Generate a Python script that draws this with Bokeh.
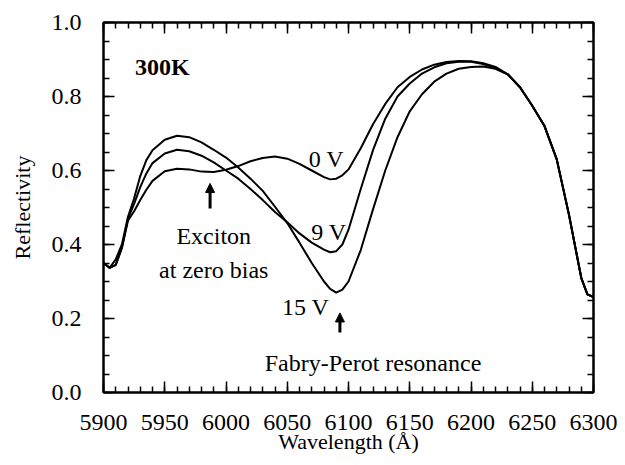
from bokeh.plotting import figure
from bokeh.models import LinearAxis, Range1d, Arrow, NormalHead, FixedTicker, ColumnDataSource
from bokeh.core.properties import value
from bokeh.embed import file_html
from bokeh.resources import INLINE

# ---- data ----
wavelength = [5900, 5905, 5910, 5915, 5920, 5925, 5930, 5935, 5940, 5950, 5960, 5970, 5980, 5990,
              6000, 6010, 6020, 6030, 6040, 6050, 6060, 6070, 6080, 6085, 6090, 6095, 6100, 6110,
              6120, 6130, 6140, 6150, 6160, 6170, 6180, 6190, 6200, 6210, 6220, 6230, 6240,
              6250, 6260, 6270, 6280, 6290, 6295, 6300]

refl_0V = [0.350, 0.337, 0.345, 0.390, 0.465, 0.490, 0.520, 0.548, 0.572, 0.598, 0.605, 0.603, 0.597, 0.596,
           0.602, 0.612, 0.625, 0.634, 0.638, 0.632, 0.618, 0.600, 0.582, 0.576, 0.578, 0.587, 0.603, 0.660,
           0.725, 0.780, 0.825, 0.853, 0.873, 0.886, 0.893, 0.896, 0.895, 0.890, 0.880, 0.860, 0.825,
           0.775, 0.720, 0.630, 0.480, 0.310, 0.265, 0.258]

refl_9V = [0.350, 0.337, 0.345, 0.392, 0.470, 0.510, 0.555, 0.592, 0.620, 0.646, 0.656, 0.652, 0.640, 0.622,
           0.600, 0.578, 0.550, 0.520, 0.488, 0.460, 0.430, 0.405, 0.386, 0.379, 0.382, 0.400, 0.440, 0.550,
           0.655, 0.740, 0.800, 0.835, 0.862, 0.879, 0.890, 0.894, 0.894, 0.888, 0.877, 0.860, 0.825,
           0.775, 0.720, 0.630, 0.480, 0.310, 0.265, 0.258]

refl_15V = [0.350, 0.337, 0.360, 0.400, 0.475, 0.525, 0.585, 0.628, 0.655, 0.683, 0.694, 0.690, 0.676, 0.656,
            0.635, 0.608, 0.578, 0.545, 0.502, 0.458, 0.405, 0.350, 0.300, 0.280, 0.270, 0.278, 0.300, 0.385,
            0.495, 0.600, 0.690, 0.760, 0.806, 0.840, 0.862, 0.875, 0.880, 0.881, 0.875, 0.860, 0.825,
            0.775, 0.720, 0.630, 0.480, 0.310, 0.265, 0.258]

x_ticks = [5900, 5950, 6000, 6050, 6100, 6150, 6200, 6250, 6300]
y_ticks = [0.0, 0.2, 0.4, 0.6, 0.8, 1.0]
x_minor = list(range(5900, 6301, 10))
y_minor = [round(i * 0.05, 2) for i in range(0, 21)]

# annotation texts
label_text = ["300K", "0 V", "9 V", "15 V", "Exciton", "at zero bias", "Fabry-Perot resonance"]
label_x = [5948, 6082, 6084, 6065, 5990, 5990, 6120]
label_y = [0.880, 0.630, 0.435, 0.230, 0.424, 0.330, 0.080]
label_weight = ["bold", "normal", "normal", "normal", "normal", "normal", "normal"]

# arrows (x, y_start, y_end)
arrow_x = [5987, 6093]
arrow_y0 = [0.497, 0.162]
arrow_y1 = [0.565, 0.215]

FONT = "Liberation Serif"

p = figure(width=617, height=457, output_backend="svg", toolbar_location=None,
           x_range=Range1d(5900, 6300), y_range=Range1d(0, 1.0),
           min_border_left=103, min_border_right=24, min_border_top=22, min_border_bottom=65)
p.background_fill_color = "white"
p.border_fill_color = "white"
p.grid.visible = False
p.outline_line_color = "black"
p.outline_line_width = 2

for xs in (refl_0V, refl_9V, refl_15V):
    p.line(wavelength, xs, line_color="black", line_width=2)

def style(ax, ticks, minor):
    ax.ticker = FixedTicker(ticks=ticks, minor_ticks=minor)
    ax.major_tick_in = 11
    ax.major_tick_out = 0
    ax.minor_tick_in = 6
    ax.minor_tick_out = 0
    ax.axis_line_width = 2
    ax.major_tick_line_width = 1.5
    ax.minor_tick_line_width = 1.5
    ax.major_label_text_font = FONT
    ax.major_label_text_font_size = "24px"
    ax.major_label_text_color = "black"
    ax.axis_label_text_font = FONT
    ax.axis_label_text_font_size = "22px"
    ax.axis_label_text_font_style = "normal"
    ax.axis_label_text_color = "black"

xa = p.xaxis[0]
style(xa, x_ticks, x_minor)
xa.axis_label = "Wavelength (Å)"
xa.major_label_standoff = 22
xa.axis_label_standoff = -4

ya = p.yaxis[0]
style(ya, y_ticks, y_minor)
ya.axis_label = "Reflectivity"
ya.major_label_standoff = 22
ya.axis_label_standoff = 14
ya.major_label_overrides = {t: f"{t:.1f}" for t in y_ticks}

top = LinearAxis()
style(top, x_ticks, x_minor)
top.major_label_overrides = {t: "" for t in x_ticks}
top.major_label_standoff = 0
p.add_layout(top, "above")

right = LinearAxis()
style(right, y_ticks, y_minor)
right.major_label_overrides = {t: "" for t in y_ticks}
right.major_label_standoff = 0
p.add_layout(right, "right")

src = ColumnDataSource(dict(x=label_x, y=label_y, t=label_text, w=label_weight))
p.text(x="x", y="y", text="t", source=src, text_font=value(FONT), text_font_size="24px",
       text_font_style="w", text_align="center", text_baseline="middle", text_color="black")

for ax_, y0, y1 in zip(arrow_x, arrow_y0, arrow_y1):
    p.add_layout(Arrow(end=NormalHead(size=9, fill_color="black", line_color="black"),
                       x_start=ax_, y_start=y0, x_end=ax_, y_end=y1,
                       line_width=3, line_color="black"))

open("out.html", "w").write(file_html(p, INLINE))
